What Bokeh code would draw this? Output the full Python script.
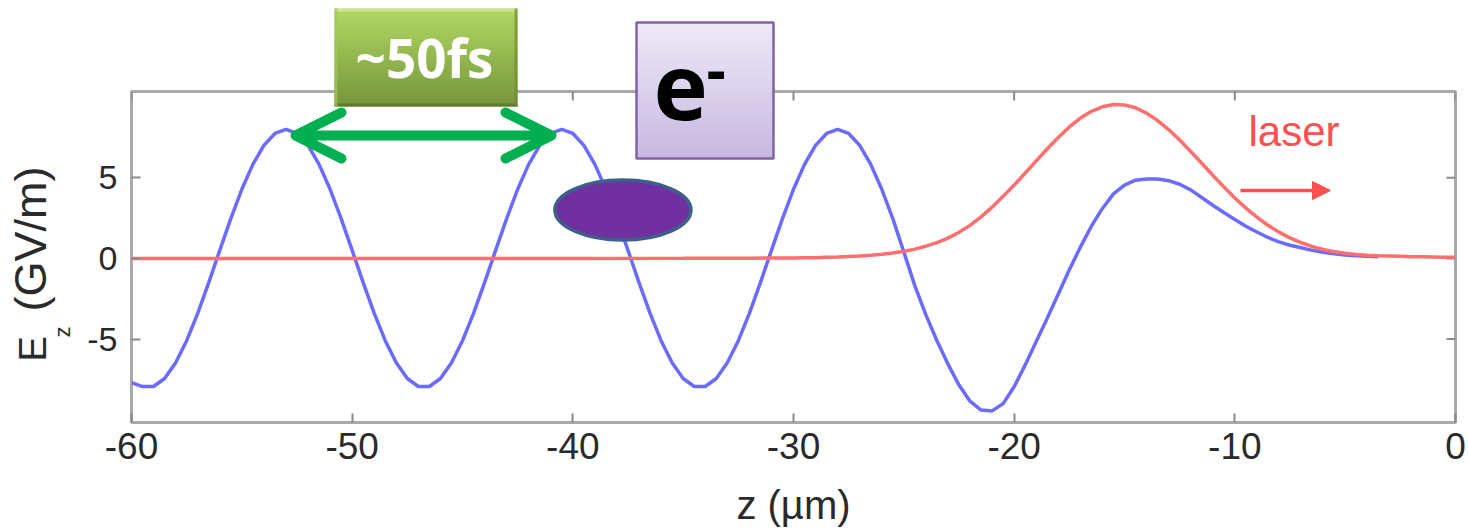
import numpy as np
from bokeh.plotting import figure
from bokeh.models import (Range1d, FixedTicker, Label, Arrow, OpenHead, NormalHead, GridBox)
from bokeh.embed import file_html
from bokeh.resources import INLINE

# ---------------- data ----------------
z_blue = [-60.0, -59.5, -59.0, -58.5, -58.0, -57.5, -57.0, -56.5, -56.0, -55.5,
          -55.0, -54.5, -54.0, -53.5, -53.0, -52.5, -52.0, -51.5, -51.0, -50.5,
          -50.0, -49.5, -49.0, -48.5, -48.0, -47.5, -47.0, -46.5, -46.0, -45.5,
          -45.0, -44.5, -44.0, -43.5, -43.0, -42.5, -42.0, -41.5, -41.0, -40.5,
          -40.0, -39.5, -39.0, -38.5, -38.0, -37.5, -37.0, -36.5, -36.0, -35.5,
          -35.0, -34.5, -34.0, -33.5, -33.0, -32.5, -32.0, -31.5, -31.0, -30.5,
          -30.0, -29.5, -29.0, -28.5, -28.0, -27.5, -27.0, -26.5, -26.0, -25.5,
          -25.0, -24.5, -24.0, -23.5, -23.0, -22.5, -22.0, -21.5, -21.0, -20.5,
          -20.0, -19.5, -19.0, -18.5, -18.0, -17.5, -17.0, -16.5, -16.0, -15.5,
          -15.0, -14.5, -14.0, -13.5, -13.0, -12.5, -12.0, -11.5, -11.0, -10.5,
          -10.0, -9.5, -9.0, -8.5, -8.0, -7.5, -7.0, -6.5, -6.0, -5.5,
          -5.0, -4.5, -4.0, -3.5]
ez_wake = [-7.70, -7.94, -7.94, -7.44, -6.47, -5.10, -3.41, -1.50, 0.50, 2.47,
           4.29, 5.83, 7.01, 7.75, 8.00, 7.75, 7.01, 5.83, 4.29, 2.47,
           0.50, -1.50, -3.41, -5.10, -6.47, -7.44, -7.94, -7.94, -7.44, -6.47,
           -5.10, -3.41, -1.50, 0.50, 2.47, 4.29, 5.83, 7.01, 7.75, 8.00,
           7.75, 7.01, 5.83, 4.29, 2.47, 0.50, -1.50, -3.41, -5.10, -6.47,
           -7.44, -7.94, -7.94, -7.44, -6.47, -5.10, -3.41, -1.50, 0.50, 2.47,
           4.29, 5.83, 7.01, 7.75, 8.00, 7.75, 7.01, 5.83, 4.29, 2.47,
           0.40, -1.70, -3.50, -5.10, -6.55, -7.85, -8.85, -9.40, -9.45, -9.00,
           -7.95, -6.60, -5.15, -3.70, -2.20, -0.70, 0.70, 2.00, 3.10, 4.00,
           4.55, 4.85, 4.93, 4.92, 4.82, 4.60, 4.25, 3.78, 3.30, 2.85,
           2.42, 2.00, 1.64, 1.30, 1.03, 0.82, 0.66, 0.50, 0.38, 0.29,
           0.22, 0.17, 0.13, 0.11]

z_red = [-60.0, -55.0, -50.0, -45.0, -40.0, -35.0, -32.0,
         -30.0, -29.5, -29.0, -28.5, -28.0, -27.5, -27.0, -26.5, -26.0, -25.5,
         -25.0, -24.5, -24.0, -23.5, -23.0, -22.5, -22.0, -21.5, -21.0, -20.5,
         -20.0, -19.5, -19.0, -18.5, -18.0, -17.5, -17.0, -16.5, -16.0, -15.5,
         -15.0, -14.5, -14.0, -13.5, -13.0, -12.5, -12.0, -11.5, -11.0, -10.5,
         -10.0, -9.5, -9.0, -8.5, -8.0, -7.5, -7.0, -6.5, -6.0, -5.5,
         -5.0, -4.5, -4.0, -3.5, -3.0, -2.5, -2.0, -1.5, -1.0, -0.5, 0.0]
ez_laser = [0.0, 0.0, 0.0, 0.0, 0.0, 0.01, 0.02,
            0.03, 0.04, 0.05, 0.07, 0.09, 0.12, 0.15, 0.20, 0.26, 0.34,
            0.44, 0.58, 0.76, 0.98, 1.26, 1.62, 2.05, 2.58, 3.18, 3.85,
            4.55, 5.30, 6.05, 6.80, 7.50, 8.15, 8.70, 9.12, 9.40, 9.54,
            9.52, 9.34, 9.01, 8.55, 7.99, 7.34, 6.63, 5.90, 5.16, 4.44,
            3.75, 3.12, 2.56, 2.06, 1.63, 1.27, 0.98, 0.74, 0.56, 0.42,
            0.32, 0.25, 0.20, 0.17, 0.15, 0.13, 0.11, 0.10, 0.09, 0.08, 0.07]

x_ticks = [-60, -50, -40, -30, -20, -10, 0]
y_ticks = [-5, 0, 5]

# ---------------- layout ----------------
W, H = 1468, 531
FL, FR, FT, FB = 131, 1455, 91, 422
X0, X1 = -60, 0
Y0, Y1 = -10.17, 10.35
FONT = "Liberation Sans"
TXT = "#2a2a2a"
TICK = "#8a8a8a"

p = figure(width=W, height=H, x_range=Range1d(X0, X1), y_range=Range1d(Y0, Y1),
           output_backend="svg", toolbar_location=None)
p.min_border_left = FL
p.min_border_right = W - FR
p.min_border_top = FT
p.min_border_bottom = H - FB
p.background_fill_color = "white"
p.border_fill_color = "white"
p.outline_line_color = "#a9a9a9"
p.outline_line_width = 3
p.xgrid.visible = False
p.ygrid.visible = False


def style_axis(ax, ticks):
    ax.ticker = FixedTicker(ticks=ticks)
    ax.axis_line_color = None
    ax.major_tick_in = 9
    ax.major_tick_out = 0
    ax.minor_tick_line_color = None
    ax.major_tick_line_color = TICK
    ax.major_tick_line_width = 2
    ax.major_label_text_font = FONT
    ax.major_label_text_color = TXT
    ax.major_label_text_font_size = "37px"
    ax.major_label_overrides = {t: str(t) for t in ticks}


bx = p.below[0]
style_axis(bx, x_ticks)
bx.major_label_standoff = 10

ly = p.left[0]
style_axis(ly, y_ticks)
ly.major_label_text_font_size = "34px"
ly.major_label_standoff = 14

# mirrored inward ticks on the top and right edges
p.ray(x=x_ticks, y=[Y1] * len(x_ticks), length=9, length_units="screen",
      angle=-np.pi / 2, line_color=TICK, line_width=2)
p.ray(x=[X1] * len(y_ticks), y=y_ticks, length=9, length_units="screen",
      angle=np.pi, line_color=TICK, line_width=2)

# ---------------- curves ----------------
p.line(z_blue, ez_wake, line_color="#6b6bff", line_width=3.5)
p.line(z_red, ez_laser, line_color="#ff6f6f", line_width=3.5)

# electron bunch (drawn over the wake line)
bunch_z, bunch_e = [-37.73], [3.0]
p.ellipse(x=bunch_z, y=bunch_e, width=136, height=60,
          width_units="screen", height_units="screen",
          fill_color="#7030a0", line_color="#3d5f8c", line_width=3.5)

# ---------------- overlay for the decorations (canvas pixel coordinates) ----------------
ov = figure(width=W, height=H, x_range=Range1d(0, W), y_range=Range1d(H, 0),
            output_backend="svg", toolbar_location=None,
            x_axis_location=None, y_axis_location=None, min_border=0)
ov.min_border_left = 0
ov.min_border_right = 0
ov.min_border_top = 0
ov.min_border_bottom = 0
ov.outline_line_color = None
ov.background_fill_alpha = 0
ov.border_fill_alpha = 0
ov.xgrid.visible = False
ov.ygrid.visible = False
for fig in (p, ov):
    try:
        fig.frame_align = False
    except AttributeError:
        pass

# vertical shift of labels drawn with the "alphabetic" baseline (per font, in em)
K_LIB = 0.3465
K_OS = 0.388


def hex2rgb(h):
    h = h.lstrip("#")
    return [int(h[i:i + 2], 16) for i in (0, 2, 4)]


def grad_box(Xa, Xb, Ya, Yb, c_top, c_bot, n=40):
    a, b = hex2rgb(c_top), hex2rgb(c_bot)
    step = (Yb - Ya) / n
    tops, bots, cols = [], [], []
    for i in range(n):
        t = i / (n - 1)
        cols.append("#%02x%02x%02x" % tuple(int(round(a[k] + (b[k] - a[k]) * t)) for k in range(3)))
        tops.append(Ya + i * step)
        bots.append(min(Yb, Ya + (i + 1) * step + 0.8))
    ov.quad(left=[Xa] * n, right=[Xb] * n, top=tops, bottom=bots,
            fill_color=cols, line_color=None)


# "~50fs" box
grad_box(334, 517, 8, 106, "#b2d762", "#76963b")
ov.quad(left=[334], right=[517], top=[8], bottom=[11], fill_color="#cbe596", line_color=None)
ov.quad(left=[334], right=[517], top=[103], bottom=[106], fill_color="#607a2d", line_color=None)
ov.quad(left=[334], right=[337], top=[8], bottom=[106], fill_color="#a3c65a", line_color=None, fill_alpha=0.7)
ov.quad(left=[514], right=[517], top=[8], bottom=[106], fill_color="#6d8a35", line_color=None, fill_alpha=0.7)
ov.add_layout(Label(x=424, y=78 - K_OS * 53, text="~50fs",
                    text_font="Open Sans", text_font_style="bold", text_font_size="53px",
                    text_color="white", text_align="center", text_baseline="alphabetic"))

# "e-" box
grad_box(636, 773, 22, 158, "#eee9f7", "#c7b9e1")
ov.quad(left=[636], right=[773], top=[22], bottom=[158], fill_alpha=0,
        line_color="#8064a2", line_width=2.5)
ov.add_layout(Label(x=653, y=122 - K_OS * 92, text="e",
                    text_font="Open Sans", text_font_style="bold", text_font_size="92px",
                    text_color="black", text_align="left", text_baseline="alphabetic"))
ov.add_layout(Label(x=706, y=93 - K_OS * 60, text="-",
                    text_font="Open Sans", text_font_style="bold", text_font_size="60px",
                    text_color="black", text_align="left", text_baseline="alphabetic"))

# green double arrow
G = "#00b050"
ov.add_layout(Arrow(start=OpenHead(size=46, line_color=G, line_width=10,
                                   line_cap="round", line_join="round"),
                    end=OpenHead(size=46, line_color=G, line_width=10,
                                 line_cap="round", line_join="round"),
                    x_start=295, y_start=135, x_end=551, y_end=135,
                    line_color=G, line_width=10))

# laser arrow and label
R = "#ff4f4f"
ov.add_layout(Arrow(end=NormalHead(size=18, fill_color=R, line_color=R, line_width=1),
                    x_start=1240, y_start=190, x_end=1330, y_end=190,
                    line_color=R, line_width=3.5))
ov.add_layout(Label(x=1248, y=146 - K_LIB * 42, text="laser", text_font=FONT,
                    text_font_size="42px", text_color=R, text_align="left",
                    text_baseline="alphabetic"))

# axis titles
ov.add_layout(Label(x=(FL + FR) / 2, y=518 - K_LIB * 40, text="z (µm)", text_font=FONT,
                    text_font_size="40px", text_color=TXT, text_align="center",
                    text_baseline="alphabetic"))
ylab = dict(angle=np.pi / 2, text_font=FONT, text_color=TXT,
            text_align="left", text_baseline="alphabetic")
ov.add_layout(Label(x=46 - K_LIB * 38, y=361, text="E", text_font_size="38px", **ylab))
ov.add_layout(Label(x=70 - K_LIB * 22, y=337, text="z", text_font_size="22px", **ylab))
ov.add_layout(Label(x=46 - K_LIB * 45, y=311, text="(GV/m)", text_font_size="45px", **ylab))

layout = GridBox(children=[(p, 0, 0), (ov, 0, 0)], spacing=0)

open("out.html", "w").write(file_html(layout, INLINE))
